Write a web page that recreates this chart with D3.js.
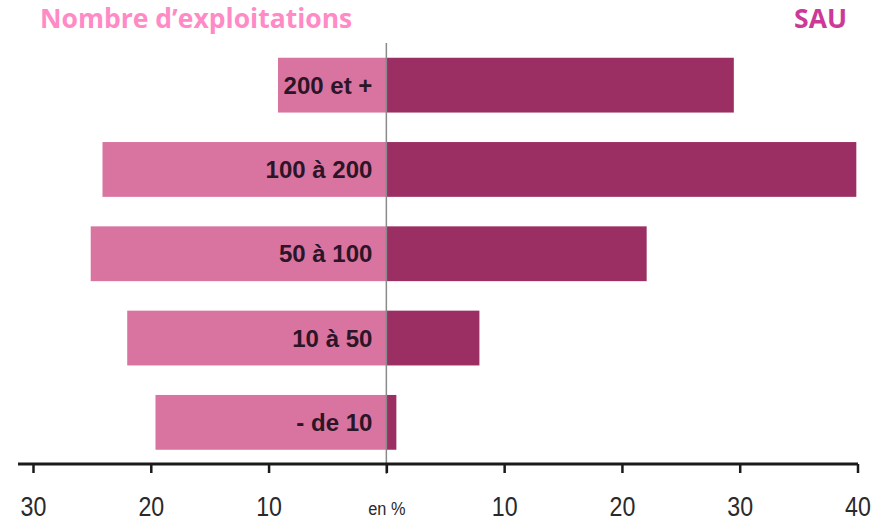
<!DOCTYPE html>
<html>
<head>
<meta charset="utf-8">
<script src="https://cdn.jsdelivr.net/npm/d3@7"></script>
<style>
  html, body { margin: 0; padding: 0; background: #fff; }
  svg { display: block; }
  .cond { font-family: "Liberation Sans Narrow", "Arial Narrow", "Liberation Sans", sans-serif; }
</style>
</head>
<body>
<svg id="chart" width="883" height="521"></svg>
<script>
// Farm size classes (ha), top to bottom
const classes = ["200 et +", "100 à 200", "50 à 100", "10 à 50", "- de 10"];
// Share of farms (%), drawn to the left
const exploitations = [9.2, 24.1, 25.1, 22.0, 19.6];
// Share of utilised agricultural area (%), drawn to the right
const sau = [29.5, 39.9, 22.1, 7.9, 0.85];
// Axis ticks and their labels
const tickValues = [-30, -20, -10, 0, 10, 20, 30, 40];
const tickLabels = ["30", "20", "10", "en %", "10", "20", "30", "40"];

const svg = d3.select("#chart");

const x = d3.scaleLinear().domain([-30, 40]).range([33, 857.5]);
const y = d3.scaleBand().domain(classes).range([43, 464.5])
  .paddingInner(0.35).paddingOuter(0.175);

// Left bars: number of farms
svg.append("g").selectAll("rect")
  .data(classes)
  .join("rect")
  .attr("x", (d, i) => x(-exploitations[i]))
  .attr("y", d => y(d))
  .attr("width", (d, i) => x(0) - x(-exploitations[i]))
  .attr("height", y.bandwidth())
  .attr("fill", "#d9739f");

// Right bars: agricultural area
svg.append("g").selectAll("rect")
  .data(classes)
  .join("rect")
  .attr("x", x(0))
  .attr("y", d => y(d))
  .attr("width", (d, i) => x(sau[i]) - x(0))
  .attr("height", y.bandwidth())
  .attr("fill", "#9b2f63");

// Class labels inside the left bars
svg.append("g").selectAll("text")
  .data(classes)
  .join("text")
  .attr("class", "cond")
  .attr("x", x(0) - 14)
  .attr("y", d => y(d) + y.bandwidth() / 2)
  .attr("dy", "0.36em")
  .attr("text-anchor", "end")
  .attr("font-size", 24)
  .attr("font-weight", "bold")
  .attr("fill", "#2b1526")
  .text(d => d);

// Central zero line
svg.append("line")
  .attr("x1", x(0)).attr("x2", x(0))
  .attr("y1", 43).attr("y2", 474)
  .attr("stroke", "#8a8a8a")
  .attr("stroke-width", 1.5);

// Bottom axis
const axis = d3.axisBottom(x)
  .tickValues(tickValues)
  .tickFormat((d, i) => tickLabels[i])
  .tickSize(9)
  .tickPadding(24)
  .tickSizeOuter(0);

const gx = svg.append("g")
  .attr("transform", "translate(0,464)")
  .call(axis);
gx.select(".domain").remove();
gx.append("line")
  .attr("x1", 18).attr("x2", 858)
  .attr("stroke", "#1a1a1a")
  .attr("stroke-width", 3);
gx.selectAll(".tick line").attr("stroke", "#1a1a1a").attr("stroke-width", 2.5);
gx.selectAll(".tick text")
  .attr("class", "cond")
  .attr("font-size", d => d === 0 ? 19 : 27)
  .attr("fill", "#2a2a2a")
  .attr("transform", "scale(0.86,1)")
  .attr("dy", d => d === 0 ? "0.95em" : "0.71em");

// Series titles
svg.append("text")
  .attr("x", 40).attr("y", 28)
  .attr("font-family", "'Open Sans', 'Noto Sans', sans-serif")
  .attr("font-weight", "bold")
  .attr("font-size", 26.5)
  .attr("fill", "#ff8ac6")
  .text("Nombre d’exploitations");

svg.append("text")
  .attr("x", 847).attr("y", 28)
  .attr("text-anchor", "end")
  .attr("font-family", "'Open Sans', 'Noto Sans', sans-serif")
  .attr("font-weight", "bold")
  .attr("font-size", 26.5)
  .attr("fill", "#cc3a98")
  .text("SAU");
</script>
</body>
</html>
